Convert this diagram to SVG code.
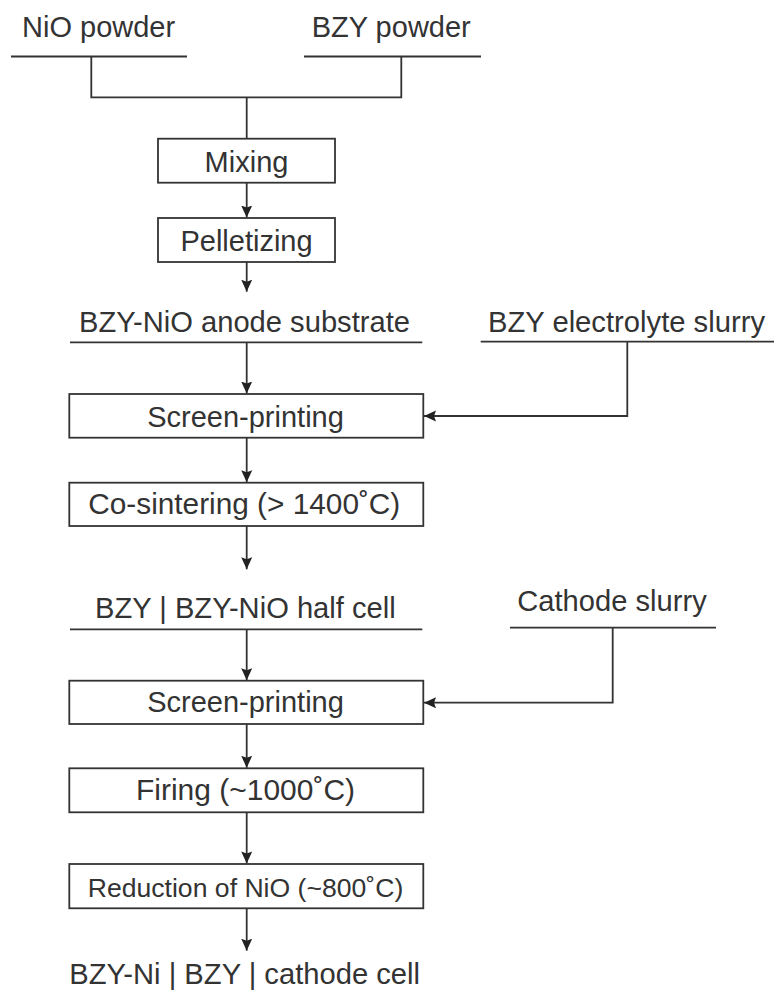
<svg xmlns="http://www.w3.org/2000/svg" width="776" height="994" viewBox="0 0 776 994">
<style>
  text { font-family: "Liberation Sans", Arial, sans-serif; font-size: 29px; fill: #333; }
  .small { font-size: 26px; }
  .box { fill: #fff; stroke: #333; stroke-width: 1.8; }
  .ln { fill: none; stroke: #333; stroke-width: 1.8; }
</style>
<defs>
  <marker id="ah" markerUnits="userSpaceOnUse" markerWidth="14" markerHeight="12" refX="12" refY="6" orient="auto">
    <path d="M0,0.5 L12,6 L0,11.5 L2,6 z" fill="#222"/>
  </marker>
</defs>
<g id="connectors">
  <path class="ln" d="M91.3,56.5 V97.3 H401.3 V56.5"/>
  <path class="ln" d="M246.7,97.3 V138.7"/>
  <path class="ln" d="M246.7,182.7 V217.5" marker-end="url(#ah)"/>
  <path class="ln" d="M246.7,262 V291.7" marker-end="url(#ah)"/>
  <path class="ln" d="M246.7,342.3 V393.5" marker-end="url(#ah)"/>
  <path class="ln" d="M627.3,341.7 V416 H424" marker-end="url(#ah)"/>
  <path class="ln" d="M246.7,437.7 V482.2" marker-end="url(#ah)"/>
  <path class="ln" d="M246.7,526 V569.3" marker-end="url(#ah)"/>
  <path class="ln" d="M246.7,629.3 V680.2" marker-end="url(#ah)"/>
  <path class="ln" d="M612.7,627.7 V702.7 H424" marker-end="url(#ah)"/>
  <path class="ln" d="M246.7,724 V767.8" marker-end="url(#ah)"/>
  <path class="ln" d="M246.7,812.3 V863.4" marker-end="url(#ah)"/>
  <path class="ln" d="M246.7,908.3 V950.7" marker-end="url(#ah)"/>
</g>
<g id="nio-powder">
  <text x="22" y="37.3">NiO powder</text>
  <path class="ln" d="M11,56.5 H187"/>
</g>
<g id="bzy-powder">
  <text x="311.7" y="37.3">BZY powder</text>
  <path class="ln" d="M304,56.5 H481"/>
</g>
<g id="mixing">
  <rect class="box" x="158" y="138.7" width="177" height="44"/>
  <text x="246.5" y="171.5" text-anchor="middle">Mixing</text>
</g>
<g id="pelletizing">
  <rect class="box" x="158" y="218" width="177" height="44"/>
  <text x="246.5" y="250.5" text-anchor="middle">Pelletizing</text>
</g>
<g id="anode-substrate">
  <text x="79" y="331.7" textLength="331" lengthAdjust="spacingAndGlyphs">BZY-NiO anode substrate</text>
  <path class="ln" d="M70,342.3 H422.3"/>
</g>
<g id="electrolyte-slurry">
  <text x="488" y="331.7" textLength="277" lengthAdjust="spacingAndGlyphs">BZY electrolyte slurry</text>
  <path class="ln" d="M480.7,341.7 H774"/>
</g>
<g id="screen-printing-1">
  <rect class="box" x="69.3" y="394" width="354" height="43.7"/>
  <text x="245.5" y="426.7" text-anchor="middle">Screen-printing</text>
</g>
<g id="co-sintering">
  <rect class="box" x="69.3" y="482.7" width="354" height="43.3"/>
  <text x="88.3" y="514.3" textLength="312" lengthAdjust="spacingAndGlyphs">Co-sintering (&gt; 1400˚C)</text>
</g>
<g id="half-cell">
  <text x="95" y="617.7" textLength="300.7" lengthAdjust="spacingAndGlyphs">BZY | BZY-NiO half cell</text>
  <path class="ln" d="M70,629.3 H422.3"/>
</g>
<g id="cathode-slurry">
  <text x="517.3" y="610.7" textLength="189.4" lengthAdjust="spacingAndGlyphs">Cathode slurry</text>
  <path class="ln" d="M510,627.7 H716"/>
</g>
<g id="screen-printing-2">
  <rect class="box" x="69.3" y="680.7" width="354" height="43.3"/>
  <text x="245.5" y="712.3" text-anchor="middle">Screen-printing</text>
</g>
<g id="firing">
  <rect class="box" x="69.3" y="768.3" width="354" height="44"/>
  <text x="136" y="800" textLength="219" lengthAdjust="spacingAndGlyphs">Firing (~1000˚C)</text>
</g>
<g id="reduction">
  <rect class="box" x="69.3" y="864" width="354" height="44.3"/>
  <text class="small" x="87.7" y="896.7" textLength="315.6" lengthAdjust="spacingAndGlyphs">Reduction of NiO (~800˚C)</text>
</g>
<g id="final-cell">
  <text x="69.3" y="984" textLength="350.7" lengthAdjust="spacingAndGlyphs">BZY-Ni | BZY | cathode cell</text>
</g>
</svg>
